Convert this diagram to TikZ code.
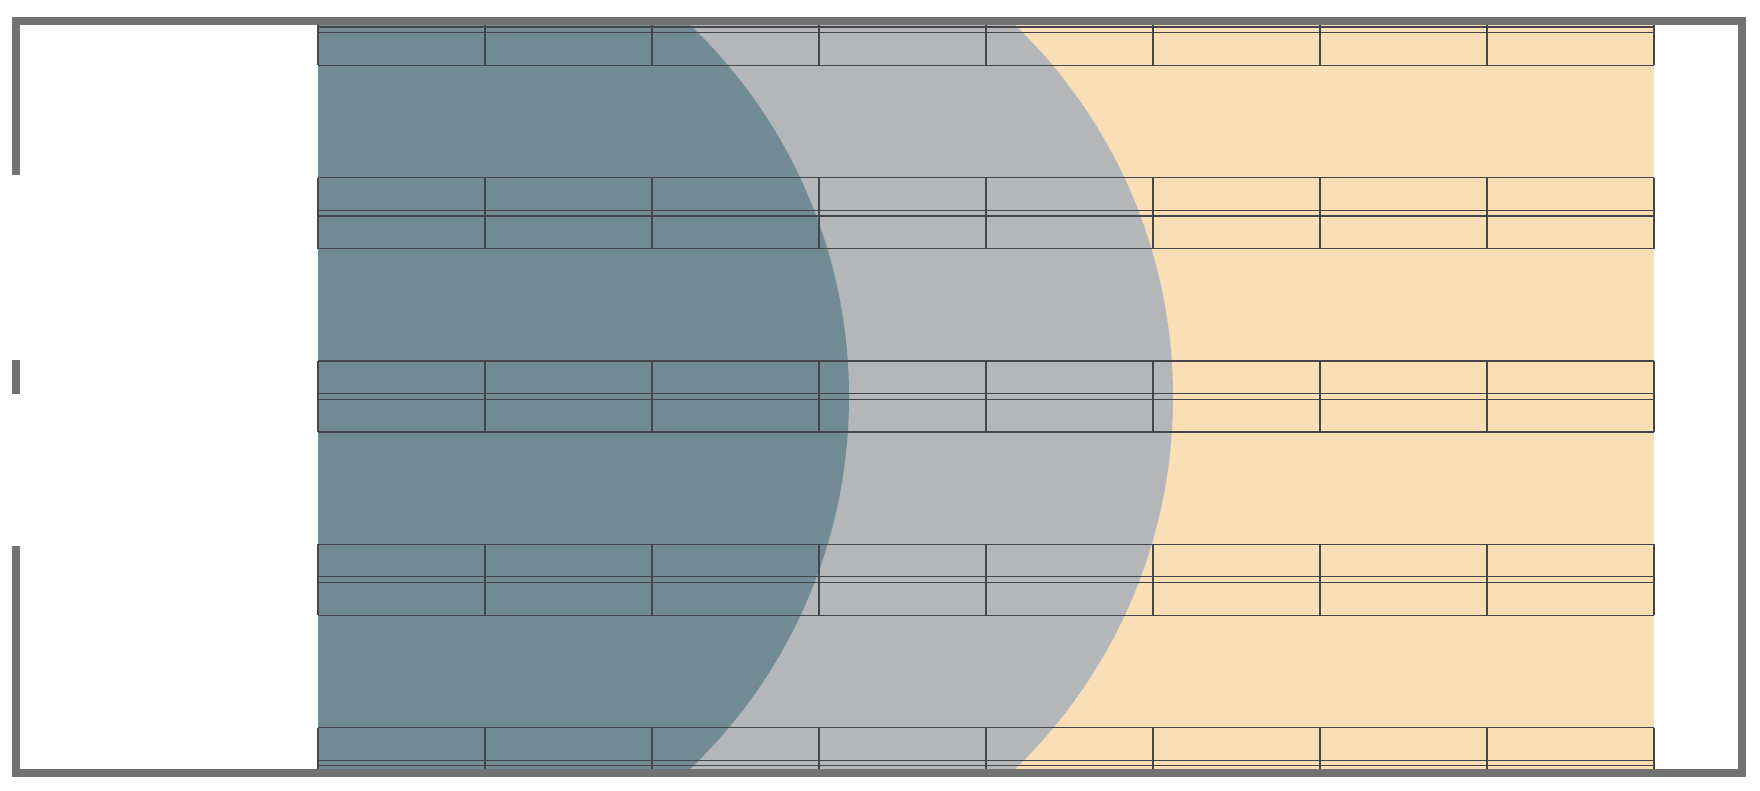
\documentclass[tikz,border=0pt]{standalone}
\usetikzlibrary{calc}
\definecolor{wallgray}{HTML}{737373}
\definecolor{slate}{HTML}{738B95}
\definecolor{fog}{HTML}{B5B6B8}
\definecolor{sand}{HTML}{F9DEB6}
\definecolor{gridline}{HTML}{45464C}
\begin{document}
\begin{tikzpicture}[x=1pt,y=-1pt,
	wall/.style={line width=8pt,color=wallgray,line join=miter},
	cell/.style={draw=gridline,line width=1.1pt}]
	\useasboundingbox (0,0) rectangle (1760,791);
	% coloured zones
	\begin{scope}
		\clip (318,21) rectangle (1654,773);
		\fill[sand] (318,21) rectangle (1654,773);
		\fill[fog] (656,397) circle [radius=517pt];
		\fill[slate] (334,397) circle [radius=515pt];
	\end{scope}
	% rows of cells
	\begin{scope}
		\clip (316,21) rectangle (1656,773);
		\foreach \k in {0,...,4} {
			\pgfmathsetmacro\ytop{-5.6+183.3*\k}
			\foreach \h in {0,32.6,38.3,71} {
				\draw[cell] (318,\ytop+\h) -- (1654,\ytop+\h);
			}
			\foreach \i in {0,...,8} {
				\draw[cell] (318+167*\i,\ytop) -- (318+167*\i,\ytop+71);
			}
		}
	\end{scope}
	% frame
	\draw[wall] (15.5,175) -- (15.5,21) -- (1741.5,21) -- (1741.5,773) -- (15.5,773) -- (15.5,546);
	\draw[wall] (15.5,360) -- (15.5,394);
\end{tikzpicture}
\end{document}
